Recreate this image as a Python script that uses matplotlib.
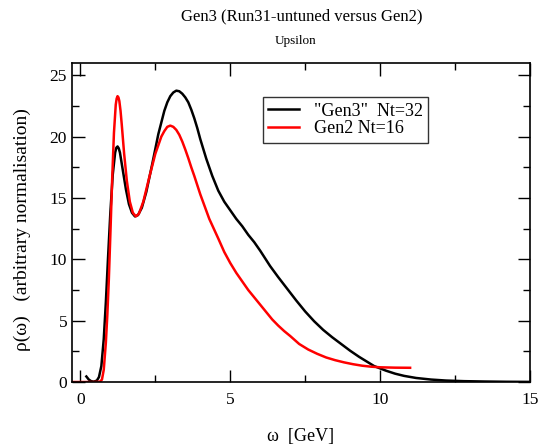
import matplotlib
matplotlib.use("Agg")
import matplotlib.pyplot as plt
from matplotlib.ticker import MultipleLocator

# "Gen3" Nt=32 (black)
gen3_w = [0.20, 0.28, 0.36, 0.45, 0.55, 0.62, 0.70, 0.78, 0.85, 0.92, 1.00, 1.08,
          1.16, 1.20, 1.24, 1.28, 1.32, 1.42, 1.52, 1.62, 1.72, 1.82, 1.92, 2.05,
          2.20, 2.40, 2.60, 2.80, 2.90, 3.00, 3.10, 3.20, 3.30, 3.40, 3.50, 3.60,
          3.70, 3.80, 3.90, 4.00, 4.20, 4.40, 4.60, 4.80, 5.00, 5.20, 5.40, 5.60,
          5.80, 6.00, 6.33, 6.60, 6.90, 7.20, 7.50, 7.80, 8.10, 8.40, 8.70, 9.00,
          9.30, 9.60, 9.80, 10.2, 10.5, 10.8, 11.2, 11.7, 12.2, 12.8, 13.5, 14.2, 15.0]
gen3_rho = [0.45, 0.20, 0.07, 0.03, 0.12, 0.40, 1.3, 3.5, 6.5, 10.0, 13.8, 16.9,
            18.7, 19.1, 19.2, 19.05, 18.7, 17.2, 15.7, 14.5, 13.8, 13.5, 13.6, 14.2,
            15.5, 17.8, 20.2, 22.1, 22.8, 23.3, 23.6, 23.75, 23.7, 23.5, 23.2, 22.8,
            22.2, 21.5, 20.7, 19.8, 18.2, 16.8, 15.6, 14.7, 14.0, 13.3, 12.7, 12.0,
            11.4, 10.7, 9.45, 8.55, 7.6, 6.65, 5.75, 4.95, 4.25, 3.65, 3.1, 2.55,
            2.05, 1.6, 1.3, 0.92, 0.68, 0.5, 0.33, 0.2, 0.12, 0.07, 0.04, 0.02, 0.01]

# Gen2 Nt=16 (red)
gen2_w = [-0.25, 0.40, 0.65, 0.72, 0.78, 0.85, 0.90, 0.95, 1.00, 1.06, 1.12, 1.18,
          1.21, 1.24, 1.27, 1.30, 1.34, 1.38, 1.46, 1.55, 1.65, 1.75, 1.85, 1.95,
          2.10, 2.30, 2.50, 2.70, 2.80, 2.90, 3.00, 3.10, 3.20, 3.30, 3.40, 3.50,
          3.60, 3.70, 3.80, 4.00, 4.30, 4.60, 4.80, 5.00, 5.20, 5.40, 5.60, 5.80,
          6.00, 6.20, 6.40, 6.60, 6.80, 7.00, 7.30, 7.60, 7.90, 8.20, 8.50, 8.80,
          9.10, 9.40, 9.70, 10.0, 10.5, 11.0]
gen2_rho = [0.0, 0.0, 0.02, 0.2, 1.0, 3.2, 5.5, 8.4, 12.0, 16.5, 20.3, 22.6,
            23.1, 23.3, 23.2, 22.9, 22.1, 21.0, 18.6, 16.4, 14.7, 13.8, 13.5, 13.7,
            14.7, 16.7, 18.6, 20.0, 20.45, 20.8, 20.9, 20.8, 20.55, 20.15, 19.6, 18.95,
            18.25, 17.5, 16.8, 15.3, 13.3, 11.7, 10.6, 9.7, 8.9, 8.2, 7.5, 6.9,
            6.3, 5.7, 5.1, 4.6, 4.15, 3.75, 3.1, 2.65, 2.3, 2.0, 1.78, 1.6,
            1.45, 1.33, 1.25, 1.2, 1.17, 1.16]

plt.rcParams['font.family'] = ['Liberation Serif', 'DejaVu Serif']

fig = plt.figure(figsize=(5.4, 4.44), dpi=100)
ax = fig.add_axes([0.1333, 0.1396, 0.8482, 0.7184])

ax.plot(gen3_w, gen3_rho, color='black', lw=1.8, label='"Gen3"  Nt=32')
ax.plot(gen2_w, gen2_rho, color='red', lw=1.8, label='Gen2 Nt=16')

ax.set_xlim(-0.28, 15)
ax.set_ylim(0, 26)
ax.xaxis.set_major_locator(MultipleLocator(5))
ax.xaxis.set_minor_locator(MultipleLocator(2.5))
ax.yaxis.set_major_locator(MultipleLocator(5))
ax.yaxis.set_minor_locator(MultipleLocator(2.5))
ax.tick_params(which='both', direction='in', top=True, right=True, labelsize=12.5)
ax.tick_params(which='major', length=9, width=1)
ax.tick_params(which='minor', length=5, width=1)
ax.tick_params(axis='x', pad=7)
for s in ax.spines.values():
    s.set_linewidth(1.2)

leg = ax.legend(loc='upper left', bbox_to_anchor=(0.417, 0.893), borderaxespad=0,
                fancybox=False, edgecolor='black', fontsize=13, handlelength=1.7,
                labelspacing=0.05, borderpad=0.3, handletextpad=0.8)
leg.get_frame().set_linewidth(1.0)

fig.text(0.558, 0.963, 'Gen3 (Run31-untuned versus Gen2)', ha='center', va='center', fontsize=12)
fig.text(0.548, 0.908, 'Upsilon', ha='center', va='center', fontsize=9.5)
fig.text(0.556, 0.016, 'ω  [GeV]', ha='center', va='center', fontsize=13)
fig.text(0.041, 0.482, 'ρ(ω)   (arbitrary normalisation)', ha='center', va='center',
         rotation=90, fontsize=14)

fig.savefig('out.png', dpi=100)
